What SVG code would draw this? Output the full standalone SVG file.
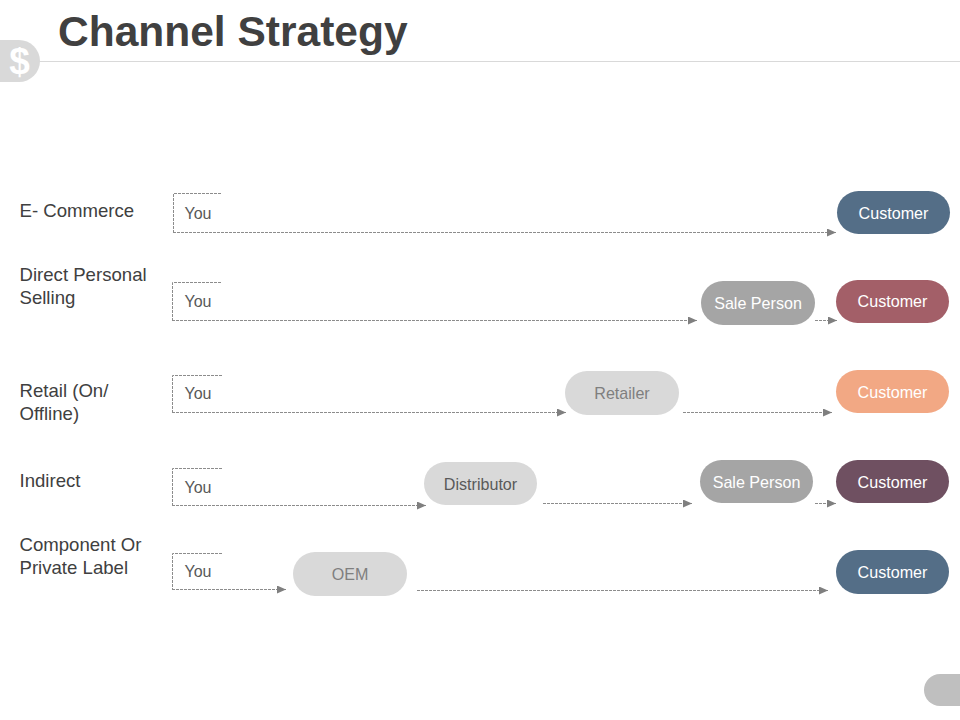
<svg xmlns="http://www.w3.org/2000/svg" width="960" height="720" viewBox="0 0 960 720">
<defs>
<marker id="arrow" markerUnits="userSpaceOnUse" markerWidth="9" markerHeight="8" refX="9" refY="4" orient="auto"><path d="M0 0L9 4L0 8Z" fill="#7f7f7f"/></marker>
</defs>
<style>
text{font-family:"Liberation Sans",Arial,sans-serif}
.lbl{font-size:18.600px;fill:#404040}
.you{font-size:16px;fill:#595959}
.pt{font-size:16.100px;text-anchor:middle}
.w{fill:#fff}
.box{fill:none;stroke:#8c8c8c;stroke-width:1;stroke-dasharray:3 1}
.con{fill:none;stroke:#8c8c8c;stroke-width:1;stroke-dasharray:3 1;marker-end:url(#arrow)}
</style>
<rect width="960" height="720" fill="#fff"/>
<g id="header">
<line x1="38" y1="61.500" x2="960" y2="61.500" stroke="#d9d9d9" stroke-width="1"/>
<path d="M0 40H19A21 21 0 0 1 40 61A21 21 0 0 1 19 82H0Z" fill="#d9d9d9"/>
<text x="19.500" y="74" font-size="37" font-weight="700" fill="#fff" text-anchor="middle">$</text>
<text x="58" y="46" font-size="42.500" font-weight="700" fill="#404040">Channel Strategy</text>
</g>
<g id="labels">
<text class="lbl" x="19.500" y="217">E- Commerce</text>
<text class="lbl" x="19.500" y="281">Direct Personal</text>
<text class="lbl" x="19.500" y="304">Selling</text>
<text class="lbl" x="19.500" y="397">Retail (On/</text>
<text class="lbl" x="19.500" y="420">Offline)</text>
<text class="lbl" x="19.500" y="487">Indirect</text>
<text class="lbl" x="19.500" y="551">Component Or</text>
<text class="lbl" x="19.500" y="574">Private Label</text>
</g>
<g id="connectors">
<path class="con" d="M173 232.500H836"/>
<path class="con" d="M172 320.500H697"/>
<path class="con" d="M815 320.500H837"/>
<path class="con" d="M172 412.500H566"/>
<path class="con" d="M683 412.500H832"/>
<path class="con" d="M172 505.500H426"/>
<path class="con" d="M543 503.500H692"/>
<path class="con" d="M815 503.500H836"/>
<path class="con" d="M172 589.500H286"/>
<path class="con" d="M417 590.500H828"/>
</g>
<g id="you1"><path class="box" d="M221 193.500H173.500V232"/><text class="you" x="184.500" y="219">You</text></g>
<g id="you2"><path class="box" d="M221 282.500H172.500V320"/><text class="you" x="184.500" y="307">You</text></g>
<g id="you3"><path class="box" d="M222 375.500H172.500V412"/><text class="you" x="184.500" y="399">You</text></g>
<g id="you4"><path class="box" d="M222 468.500H172.500V505"/><text class="you" x="184.500" y="493">You</text></g>
<g id="you5"><path class="box" d="M222 553.500H172.500V589"/><text class="you" x="184.500" y="577">You</text></g>
<g id="customer1"><rect x="837" y="191" width="113" height="43" rx="21.500" fill="#546e87"/><text class="pt w" x="893.500" y="218.500">Customer</text></g>
<g id="salesperson1"><rect x="701" y="281" width="114" height="44" rx="22" fill="#a5a5a5"/><text class="pt w" x="758" y="309">Sale Person</text></g>
<g id="customer2"><rect x="836" y="280" width="113" height="43" rx="21.500" fill="#a35f68"/><text class="pt w" x="892.500" y="307">Customer</text></g>
<g id="retailer"><rect x="565" y="371" width="114" height="44" rx="22" fill="#d9d9d9"/><text class="pt" x="622" y="399" fill="#7f7f7f">Retailer</text></g>
<g id="customer3"><rect x="836" y="370" width="113" height="43" rx="21.500" fill="#f2a884"/><text class="pt w" x="892.500" y="398">Customer</text></g>
<g id="distributor"><rect x="424" y="462" width="113" height="43" rx="21.500" fill="#d9d9d9"/><text class="pt" x="480.500" y="490" fill="#595959">Distributor</text></g>
<g id="salesperson2"><rect x="700" y="460" width="113" height="43" rx="21.500" fill="#a5a5a5"/><text class="pt w" x="756.500" y="488">Sale Person</text></g>
<g id="customer4"><rect x="836" y="460" width="113" height="43" rx="21.500" fill="#6f5061"/><text class="pt w" x="892.500" y="488">Customer</text></g>
<g id="oem"><rect x="293" y="552" width="114" height="44" rx="22" fill="#d9d9d9"/><text class="pt" x="350" y="580" fill="#7f7f7f">OEM</text></g>
<g id="customer5"><rect x="836" y="550" width="113" height="44" rx="22" fill="#546e87"/><text class="pt w" x="892.500" y="578">Customer</text></g>
<g id="page-tab"><path d="M960 674H940A16 16 0 0 0 940 706H960Z" fill="#bfbfbf"/></g>
</svg>
